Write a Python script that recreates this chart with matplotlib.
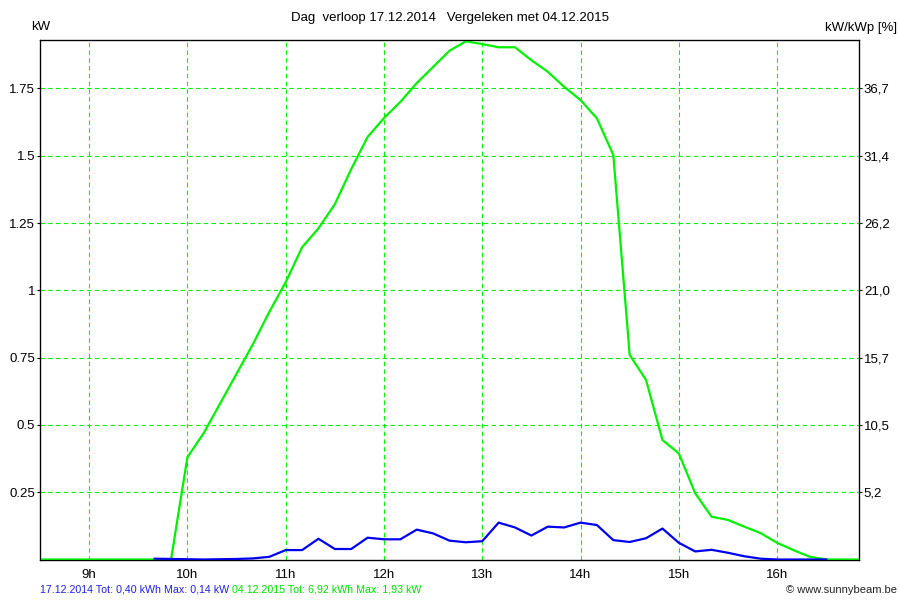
import numpy as np
import matplotlib
matplotlib.use("Agg")
import matplotlib.pyplot as plt

plt.rcParams['font.family'] = ['Liberation Sans', 'DejaVu Sans']

# tijdstippen 8:30 .. 16:50 elke 10 minuten (uren)
times = np.arange(8.5, 16.84, 1 / 6)

# 04.12.2015 (groen)
green_kw = [0, 0, 0, 0, 0, 0, 0, 0, 0,
            0.38, 0.47, 0.58, 0.69, 0.80, 0.92,
            1.03, 1.16, 1.23, 1.32, 1.45, 1.57,
            1.64, 1.70, 1.77, 1.83, 1.89, 1.925,
            1.915, 1.903, 1.903, 1.855, 1.812, 1.756,
            1.707, 1.639, 1.503, 0.76, 0.667, 0.444,
            0.394, 0.246, 0.159, 0.147, 0.122, 0.098,
            0.062, 0.035, 0.010, 0, 0, 0]

# 17.12.2014 (blauw)
nan = np.nan
blue_kw = [nan, nan, nan, nan, nan, nan, nan,
           0.003, 0.002,
           0.001, 0.0, 0.001, 0.002, 0.004, 0.01,
           0.035, 0.035, 0.077, 0.039, 0.039, 0.081,
           0.075, 0.075, 0.111, 0.097, 0.07, 0.064,
           0.068, 0.137, 0.119, 0.089, 0.122, 0.119,
           0.137, 0.128, 0.072, 0.065, 0.079, 0.115,
           0.062, 0.03, 0.036, 0.025, 0.012, 0.003,
           0, 0, 0, 0, nan, nan]

hour_ticks = [9, 10, 11, 12, 13, 14, 15, 16]
hour_labels = ["9h", "10h", "11h", "12h", "13h", "14h", "15h", "16h"]
kw_ticks = [0.25, 0.5, 0.75, 1, 1.25, 1.5, 1.75]
kw_labels = ["0.25", "0.5", "0.75", "1", "1.25", "1.5", "1.75"]
pct_labels = ["5,2", "10,5", "15,7", "21,0", "26,2", "31,4", "36,7"]

title = "Dag  verloop 17.12.2014   Vergeleken met 04.12.2015"
blue_text = "17.12.2014 Tot: 0,40 kWh Max: 0,14 kW "
green_text = "04.12.2015 Tot: 6,92 kWh Max: 1,93 kW"

grid_col = "#00f000"
line_green = "#00f000"
line_blue = "#0000f0"
fs = 9.5

fig = plt.figure(figsize=(9, 6), dpi=100)
ax = fig.add_axes([40 / 900, 1 - 559.5 / 600, 819 / 900, 519.5 / 600])

ax.plot(times, green_kw, color=line_green, lw=1.6, zorder=3)
ax.plot(times, blue_kw, color=line_blue, lw=1.6, zorder=4)

ax.set_xlim(8.5, 16.8333)
ax.set_ylim(0, 1.93)
ax.set_xticks(hour_ticks)
ax.set_xticklabels(hour_labels)
ax.set_yticks(kw_ticks)
ax.set_yticklabels(kw_labels)
ax.grid(True, color=grid_col, linestyle=(0, (4, 3)), lw=0.8)
ax.tick_params(axis="y", length=2, width=0.8, pad=1.5, labelsize=fs)
ax.tick_params(axis="x", length=0, pad=6.5, labelsize=fs)
for s in ax.spines.values():
    s.set_color("black")
    s.set_linewidth(0.9)

ax2 = ax.twinx()
ax2.set_ylim(ax.get_ylim())
ax2.set_yticks(kw_ticks)
ax2.set_yticklabels(pct_labels)
ax2.tick_params(axis="y", length=2, width=0.8, pad=1.5, labelsize=fs)

fig.text(0.5, 1 - 18 / 600, title, ha="center", va="center", fontsize=fs)
fig.text(31 / 900, 1 - 27 / 600, "kW", ha="left", va="center", fontsize=fs)
fig.text(897 / 900, 1 - 28 / 600, "kW/kWp [%]", ha="right", va="center", fontsize=fs)

t1 = fig.text(40 / 900, 1 - 589 / 600, blue_text, ha="left", va="center",
              fontsize=7.7, color="#2020e0")
fig.canvas.draw()
bb = t1.get_window_extent()
fig.text(bb.x1 / 900, 1 - 589 / 600, green_text, ha="left", va="center",
         fontsize=7.7, color="#00e000")
fig.text(897 / 900, 1 - 590 / 600, "© www.sunnybeam.be", ha="right", va="center",
         fontsize=8, color="#222222")

fig.savefig("out.png", dpi=100)
